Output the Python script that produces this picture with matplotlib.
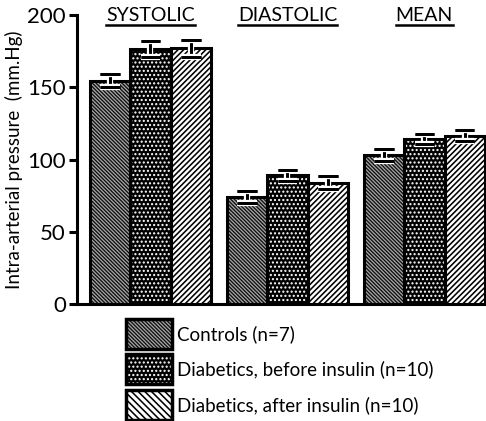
import matplotlib
matplotlib.use("Agg")
import matplotlib.pyplot as plt
import matplotlib.patheffects as pe
from matplotlib.patches import Rectangle
from matplotlib.lines import Line2D
import numpy as np

groups = ["SYSTOLIC", "DIASTOLIC", "MEAN"]
series = ["Controls (n=7)", "Diabetics, before insulin (n=10)", "Diabetics, after insulin (n=10)"]
controls = [154.5, 74, 103]
before = [176.5, 89, 114]
after = [177, 84, 116.5]
controls_err = [4.5, 4, 4]
before_err = [5.5, 4, 3.5]
after_err = [6, 4.5, 4]
yticks = [0, 50, 100, 150, 200]

values = [controls, before, after]
errors = [controls_err, before_err, after_err]

FONT = ["Lato", "DejaVu Sans"]
plt.rcParams['font.family'] = FONT

# styles: (face, hatch, hatch colour, hatch linewidth)
styles = [
    ("#111111", "\\" * 9, "#a8a8a8", 0.9),
    ("#000000", "....", "#ffffff", 1.0),
    ("#ffffff", "/" * 6, "#000000", 1.15),
]
legend_hatch = ["\\" * 9, "....", "\\" * 5]

fig = plt.figure(figsize=(4.86, 4.21), dpi=100)
ax = fig.add_axes([77/486, (421-304)/421, 1 - 77/486, (304-15)/421])

x = np.arange(len(groups))
w = 0.295

for i, (vals, errs) in enumerate(zip(values, errors)):
    pos = x + (i - 1) * w
    face, h, hc, hlw = styles[i]
    with plt.rc_context({'hatch.linewidth': hlw}):
        bars = ax.bar(pos, vals, width=w, facecolor=face, edgecolor=hc,
                      linewidth=0, hatch=h, zorder=2)
        for p in bars:
            if hasattr(p, "set_hatch_linewidth"):
                p.set_hatch_linewidth(hlw)
    ax.bar(pos, vals, width=w, fill=False, edgecolor="black", linewidth=2.2, zorder=3)
    eb = ax.errorbar(pos, vals, yerr=errs, fmt="none", ecolor="black",
                     elinewidth=2.0, capsize=7, capthick=2.0, zorder=4)
    for art in eb.lines[1] + tuple(eb.lines[2]):
        art.set_path_effects([pe.withStroke(linewidth=4.5, foreground="white"), pe.Normal()])

ax.set_ylim(0, 200)
ax.set_xlim(-0.536, 2.45)
ax.set_yticks(yticks)
ax.set_yticklabels([str(t) for t in yticks], fontsize=16)
ax.set_xticks([])
ax.spines["top"].set_visible(False)
ax.spines["right"].set_visible(False)
ax.spines["left"].set_linewidth(2.2)
ax.spines["bottom"].set_linewidth(2.2)
ax.tick_params(axis="y", direction="out", length=6, width=2.2, pad=2)
ax.set_ylabel("Intra-arterial pressure  (mm.Hg)", fontsize=13.5, labelpad=3)

texts = []
for xi, g in zip(x, groups):
    t = ax.text(xi, 1.0, g, transform=ax.get_xaxis_transform(), ha="center", va="center",
                fontsize=14, clip_on=False)
    texts.append(t)

fig.canvas.draw()
r = fig.canvas.get_renderer()
for t in texts:
    bb = t.get_window_extent(r)
    y = bb.y0 - 1
    fig.add_artist(Line2D([bb.x0 / fig.bbox.width, bb.x1 / fig.bbox.width],
                          [y / fig.bbox.height, y / fig.bbox.height],
                          transform=fig.transFigure, color="black", linewidth=1.8))

# legend (manual)
lx, lw_, lh = 126, 46, 30
rows = [334, 369, 405]
for i, (lab, yc) in enumerate(zip(series, rows)):
    face, h, hc, hlw = styles[i]
    y0 = 421 - yc - lh / 2
    with plt.rc_context({'hatch.linewidth': hlw}):
        rp = Rectangle((lx / 486, y0 / 421), lw_ / 486, lh / 421, transform=fig.transFigure,
                       facecolor=face, edgecolor=hc, linewidth=0, hatch=legend_hatch[i])
        if hasattr(rp, "set_hatch_linewidth"):
            rp.set_hatch_linewidth(hlw)
    fig.add_artist(rp)
    fig.add_artist(Rectangle((lx / 486, y0 / 421), lw_ / 486, lh / 421, transform=fig.transFigure,
                             fill=False, edgecolor="black", linewidth=2.5))
    fig.text((lx + lw_ + 5) / 486, (421 - yc) / 421, lab, ha="left", va="center", fontsize=13.5)

fig.savefig("out.png", dpi=100)
